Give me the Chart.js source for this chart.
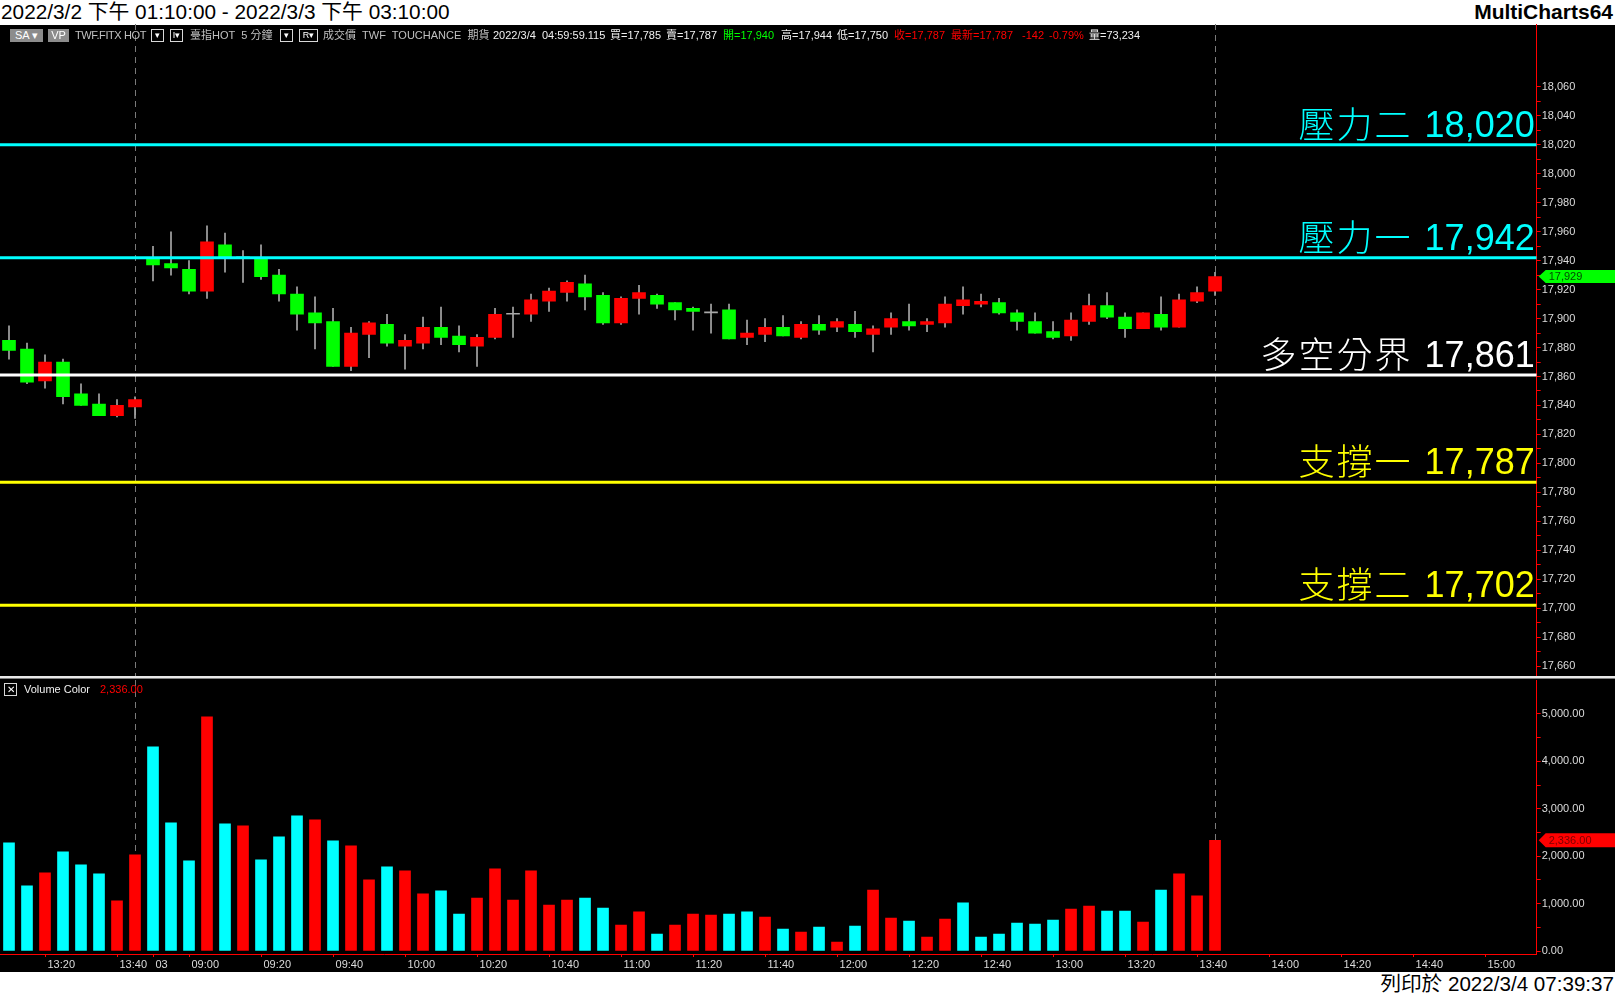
<!DOCTYPE html>
<html lang="zh-Hant">
<head>
<meta charset="utf-8">
<title>臺指HOT 5分鐘</title>
<script src="https://cdn.jsdelivr.net/npm/chart.js@4.4.1/dist/chart.umd.min.js"></script>
<style>
html,body{margin:0;padding:0;background:#fff;width:1615px;height:995px;overflow:hidden;font-family:'Liberation Sans',Arial,'Noto Sans CJK TC',sans-serif;}
#title{position:absolute;left:1px;top:0;font-size:20.8px;line-height:24px;color:#000;white-space:nowrap;}
#brand{position:absolute;right:2px;top:0;font-size:21px;font-weight:bold;line-height:24px;color:#000;}
#black{position:absolute;left:0;top:25px;width:1615px;height:947px;background:#000;}
#pc{position:absolute;left:0;top:24px;}
#vc{position:absolute;left:0;top:680px;}
#sep1{position:absolute;left:0;top:676px;width:1615px;height:2px;background:#e8e8e8;}
#sep2{position:absolute;left:0;top:678px;width:1615px;height:1px;background:#808080;}
#footer{position:absolute;right:1px;top:973px;font-size:20.6px;line-height:22px;color:#000;white-space:nowrap;}
.tb{position:absolute;top:29px;height:13px;font-size:11px;line-height:13px;color:#c0c0c0;white-space:nowrap;}
.btn{background:#8c8c8c;color:#fff;text-align:center;}
.box{border:1px solid #d8d8d8;box-sizing:border-box;text-align:center;color:#fff;font-size:9px;line-height:11px;}
.w{color:#f0f0f0;}.g{color:#00ff00;}.r{color:#ff0000;}
</style>
</head>
<body>
<div id="title">2022/3/2 下午 01:10:00 - 2022/3/3 下午 03:10:00</div>
<div id="brand">MultiCharts64</div>
<div id="black"></div>
<canvas id="pc" width="1615" height="652"></canvas>
<div id="sep1"></div><div id="sep2"></div>
<canvas id="vc" width="1615" height="292"></canvas>

<div class="tb btn" style="left:10px;width:33px;">SA ▾</div>
<div class="tb btn" style="left:48px;width:21px;">VP</div>
<div class="tb" style="left:75px;letter-spacing:-0.4px;">TWF.FITX HOT</div>
<div class="tb box" style="left:151px;width:13px;">▾</div>
<div class="tb box" style="left:170px;width:13px;">I▾</div>
<div class="tb" style="left:190px;">臺指HOT&nbsp; 5 分鐘</div>
<div class="tb box" style="left:280px;width:13px;">▾</div>
<div class="tb box" style="left:299px;width:19px;">R▾</div>
<div class="tb" style="left:323px;">成交價&nbsp; TWF&nbsp; TOUCHANCE&nbsp; 期貨</div>
<div class="tb w" style="left:493px;">2022/3/4&nbsp; 04:59:59.115</div>
<div class="tb w" style="left:610px;">買=17,785</div>
<div class="tb w" style="left:666px;">賣=17,787</div>
<div class="tb g" style="left:723px;">開=17,940</div>
<div class="tb w" style="left:781px;">高=17,944</div>
<div class="tb w" style="left:837px;">低=17,750</div>
<div class="tb r" style="left:894px;">收=17,787</div>
<div class="tb r" style="left:951px;">最新=17,787</div>
<div class="tb r" style="left:1022px;">-142</div>
<div class="tb r" style="left:1049px;">-0.79%</div>
<div class="tb w" style="left:1089px;">量=73,234</div>

<div class="tb box" style="left:4px;top:683px;width:13px;height:13px;font-size:10px;line-height:11px;">✕</div>
<div class="tb w" style="left:24px;top:683px;">Volume Color</div>
<div class="tb r" style="left:100px;top:683px;">2,336.00</div>

<div id="footer">列印於 2022/3/4 07:39:37</div>

<script>
// ---------------- data ----------------
// 5-minute bars: 2022/3/2 13:10..13:45 (8 bars), 2022/3/3 08:50..13:45 (60 bars)
const opens = [
  17885,17879,17857,17870,17848,17841,17833,17839,
  17942,17938,17934,17919,17951,17942,17942,17930,17917,17904,17898,17867,
  17889,17896,17881,17883,17894,17888,17881,17887,17903,17903,
  17912,17918,17924,17916,17897,17914,17916,17911,17907,17904,
  17906,17887,17889,17894,17887,17896,17894,17896,17889,17894,
  17898,17896,17897,17909,17910,17911,17904,17898,17891,17888,
  17898,17909,17901,17893,17903,17894,17912,17919
];
const highs = [
  17895,17883,17875,17872,17855,17848,17844,17846,
  17950,17960,17940,17964,17959,17947,17951,17934,17922,17915,17907,17894,
  17898,17903,17889,17901,17908,17895,17889,17907,17908,17917,
  17921,17926,17930,17918,17915,17923,17917,17911,17908,17910,
  17910,17899,17900,17902,17898,17902,17900,17905,17895,17904,
  17910,17900,17915,17922,17917,17914,17906,17904,17898,17904,
  17917,17918,17904,17904,17915,17917,17922,17932
];
const lows = [
  17872,17855,17852,17841,17840,17833,17832,17831,
  17926,17930,17917,17914,17932,17925,17927,17912,17892,17879,17867,17864,
  17873,17881,17865,17879,17882,17877,17867,17886,17887,17898,
  17905,17912,17906,17896,17896,17903,17907,17899,17892,17890,
  17886,17882,17884,17888,17886,17889,17891,17887,17877,17889,
  17892,17891,17894,17903,17908,17903,17892,17890,17886,17885,
  17896,17900,17887,17893,17892,17894,17911,17916
];
const closes = [
  17878,17856,17870,17846,17840,17833,17840,17844,
  17937,17935,17919,17953,17942,17942,17929,17917,17903,17897,17867,17890,
  17897,17883,17885,17894,17887,17882,17887,17903,17903,17913,
  17919,17925,17915,17897,17914,17918,17910,17906,17905,17904,
  17886,17890,17894,17888,17896,17892,17898,17891,17893,17900,
  17895,17898,17910,17913,17912,17904,17898,17890,17887,17899,
  17909,17901,17893,17904,17894,17913,17918,17929
];
const volumes = [
  2281,1373,1647,2091,1816,1626,1056,2027,
  4308,2703,1901,4942,2682,2640,1922,2408,2851,2767,2323,2218,
  1499,1774,1690,1204,1267,781,1119,1732,1077,1690,
  971,1077,1119,908,549,824,359,549,781,760,
  781,824,718,465,401,507,190,528,1288,697,
  634,296,676,1014,296,359,591,570,655,887,
  950,845,845,612,1288,1626,1162,2336
];
// volume colour flag as shown (1 = red, 0 = cyan)
const volUp = [
  0,0,1,0,0,0,1,1,
  0,0,0,1,0,1,0,0,0,1,0,1,
  1,0,1,1,0,0,1,1,1,1,
  1,1,0,0,1,1,0,1,1,1,
  0,0,1,0,1,0,1,0,1,1,
  0,1,1,0,0,0,0,0,0,1,
  1,0,0,1,0,1,1,1
];
const sessionEnds = [7, 67];
const levels      = [18020, 17942, 17861, 17787, 17702];
const levelNames  = ['壓力二', '壓力一', '多空分界', '支撐一', '支撐二'];
const levelColors = ['#00ffff', '#00ffff', '#ffffff', '#ffff00', '#ffff00'];
const timeTickIdx    = [2, 6, 8, 10, 14, 18, 22, 26, 30, 34, 38, 42, 46, 50, 54, 58, 62, 66, 70, 74, 78, 82];
const timeTickLabels = ['13:20','13:40','03','09:00','09:20','09:40','10:00','10:20','10:40','11:00','11:20','11:40','12:00','12:20','12:40','13:00','13:20','13:40','14:00','14:20','14:40','15:00'];
const priceTickValues = [17660,17680,17700,17720,17740,17760,17780,17800,17820,17840,17860,17880,17900,17920,17940,17960,17980,18000,18020,18040,18060];
const volTickValues = [0, 1000, 2000, 3000, 4000, 5000];

// ---------------- setup ----------------
const XMIN = -0.5, XMAX = 84.87;
const PMIN = 17653.1, PMAX = 18103.5;
const VMIN = -63, VMAX = 5717;
const RED = '#ff0000', GREEN = '#00ff00', CYAN = '#00ffff', WICK = '#a8a8a8';
const AXIS_W = 78.3;
const FONT = "'Liberation Sans', Arial, 'Noto Sans CJK TC', sans-serif";
const CJK_FONT = "300 36px 'Noto Sans CJK TC', 'Noto Sans CJK SC', sans-serif";
const fmtInt = v => v.toLocaleString('en-US');
const fmtVol = v => v.toLocaleString('en-US', {minimumFractionDigits: 2, maximumFractionDigits: 2});

const idx = opens.map((_, i) => i);
const withMinor = (vals, step) => {
  const out = [];
  vals.forEach((v, k) => { out.push(v); if (k < vals.length - 1) out.push(v + step / 2); });
  return out;
};

function sessionLines(chart) {
  const {ctx, chartArea, scales: {x}} = chart;
  ctx.save();
  ctx.strokeStyle = '#7a7a7a'; ctx.lineWidth = 1; ctx.setLineDash([6, 5]);
  sessionEnds.forEach(i => {
    const px = Math.round(x.getPixelForValue(i)) + 0.5;
    ctx.beginPath(); ctx.moveTo(px, chartArea.top); ctx.lineTo(px, chartArea.bottom); ctx.stroke();
  });
  ctx.restore();
}
function drawTag(chart, value, text, fill, textColor, h) {
  const {ctx, chartArea, scales: {y}} = chart;
  const py = y.getPixelForValue(value);
  const x0 = chartArea.right + 2, x1 = x0 + 7, x2 = chart.width;
  ctx.save();
  ctx.fillStyle = fill;
  ctx.beginPath();
  ctx.moveTo(x0, py); ctx.lineTo(x1, py - h / 2); ctx.lineTo(x2, py - h / 2);
  ctx.lineTo(x2, py + h / 2); ctx.lineTo(x1, py + h / 2); ctx.closePath(); ctx.fill();
  ctx.fillStyle = textColor; ctx.font = '11px ' + FONT;
  ctx.textAlign = 'left'; ctx.textBaseline = 'middle';
  ctx.fillText(text, x1 + 3, py + 0.5);
  ctx.restore();
}

const pricePlugin = {
  id: 'pricePlugin',
  beforeDatasetsDraw: sessionLines,
  afterDatasetsDraw(chart) {
    const {ctx, chartArea, scales: {y}} = chart;
    ctx.save();
    ctx.textBaseline = 'alphabetic';
    levels.forEach((v, k) => {
      const py = y.getPixelForValue(v) - 8;
      const num = fmtInt(v);
      const right = chartArea.right - 2;
      ctx.fillStyle = levelColors[k];
      ctx.font = '36px ' + FONT;
      ctx.textAlign = 'right';
      ctx.fillText(num, right, py);
      const numLeft = right - ctx.measureText(num).width;
      ctx.font = CJK_FONT;
      ctx.textAlign = 'left';
      const chars = Array.from(levelNames[k]);
      chars.forEach((ch, c) => {
        ctx.fillText(ch, numLeft - 12 - (chars.length - c) * 38, py + 1);
      });
    });
    ctx.restore();
  },
  afterDraw(chart) {
    const last = closes[closes.length - 1];
    drawTag(chart, last, fmtInt(last), GREEN, '#004a00', 13);
  }
};
const volPlugin = {
  id: 'volPlugin',
  beforeDatasetsDraw: sessionLines,
  afterDraw(chart) {
    const last = volumes[volumes.length - 1];
    drawTag(chart, last, fmtVol(last), RED, '#7a0000', 14);
  }
};

const baseOpts = {
  responsive: false, maintainAspectRatio: false, animation: false, devicePixelRatio: 1, events: [],
  layout: {padding: 0},
  plugins: {legend: {display: false}, tooltip: {enabled: false}, title: {display: false}}
};

// ---------------- price chart ----------------
new Chart(document.getElementById('pc'), {
  type: 'bar',
  data: {
    datasets: [
      {label: 'wick', data: idx.map(i => ({x: i, y: [lows[i], highs[i]]})),
       backgroundColor: WICK, barThickness: 1, grouped: false, order: 3, borderWidth: 0},
      {label: 'body', data: idx.map(i => ({x: i, y: [opens[i], closes[i]]})),
       backgroundColor: idx.map(i => closes[i] > opens[i] ? RED : (closes[i] < opens[i] ? GREEN : WICK)),
       barThickness: 13, minBarLength: 1, grouped: false, order: 2, borderWidth: 0},
      ...levels.map((v, k) => ({
        type: 'line', label: levelNames[k], data: [{x: XMIN, y: v}, {x: XMAX, y: v}],
        borderColor: levelColors[k], borderWidth: 3, pointRadius: 0, order: 1, fill: false
      }))
    ]
  },
  options: {
    ...baseOpts,
    scales: {
      x: {type: 'linear', display: false, min: XMIN, max: XMAX, offset: false, grid: {offset: false}},
      y: {
        type: 'linear', position: 'right', min: PMIN, max: PMAX,
        afterBuildTicks: s => { s.ticks = withMinor(priceTickValues, 20).map(v => ({value: v})); },
        afterFit: s => { s.width = AXIS_W; s.paddingTop = 0; s.paddingBottom = 0; },
        grid: {drawOnChartArea: false, color: RED, tickColor: RED, tickLength: 4},
        border: {color: RED, width: 1},
        ticks: {color: '#dcdcdc', font: {family: FONT, size: 11}, padding: 1, autoSkip: false,
                callback: v => priceTickValues.includes(v) ? fmtInt(v) : ''}
      }
    }
  },
  plugins: [pricePlugin]
});

// ---------------- volume chart ----------------
new Chart(document.getElementById('vc'), {
  type: 'bar',
  data: {
    datasets: [{
      label: 'Volume Color', data: idx.map(i => ({x: i, y: volumes[i]})),
      backgroundColor: idx.map(i => volUp[i] ? RED : CYAN),
      barThickness: 11, grouped: false, borderWidth: 0
    }]
  },
  options: {
    ...baseOpts,
    scales: {
      x: {
        type: 'linear', position: 'bottom', min: XMIN, max: XMAX, offset: false,
        afterBuildTicks: s => { s.ticks = timeTickIdx.map(v => ({value: v})); },
        afterFit: s => { s.height = 18; s.paddingLeft = 0; s.paddingRight = 0; },
        grid: {drawOnChartArea: false, offset: false, color: RED, tickColor: RED, tickLength: 3},
        border: {color: RED, width: 1},
        ticks: {align: 'start', labelOffset: 2.5, color: '#dcdcdc', font: {family: FONT, size: 11}, padding: 1,
                autoSkip: false, maxRotation: 0, callback: (v, i) => timeTickLabels[i]}
      },
      y: {
        type: 'linear', position: 'right', min: VMIN, max: VMAX,
        afterBuildTicks: s => { s.ticks = withMinor(volTickValues, 1000).map(v => ({value: v})); },
        afterFit: s => { s.width = AXIS_W; s.paddingTop = 0; s.paddingBottom = 0; },
        grid: {drawOnChartArea: false, color: RED, tickColor: RED, tickLength: 4},
        border: {color: RED, width: 1},
        ticks: {color: '#dcdcdc', font: {family: FONT, size: 11}, padding: 1, autoSkip: false,
                callback: v => volTickValues.includes(v) ? fmtVol(v) : ''}
      }
    }
  },
  plugins: [volPlugin]
});
</script>
</body>
</html>
